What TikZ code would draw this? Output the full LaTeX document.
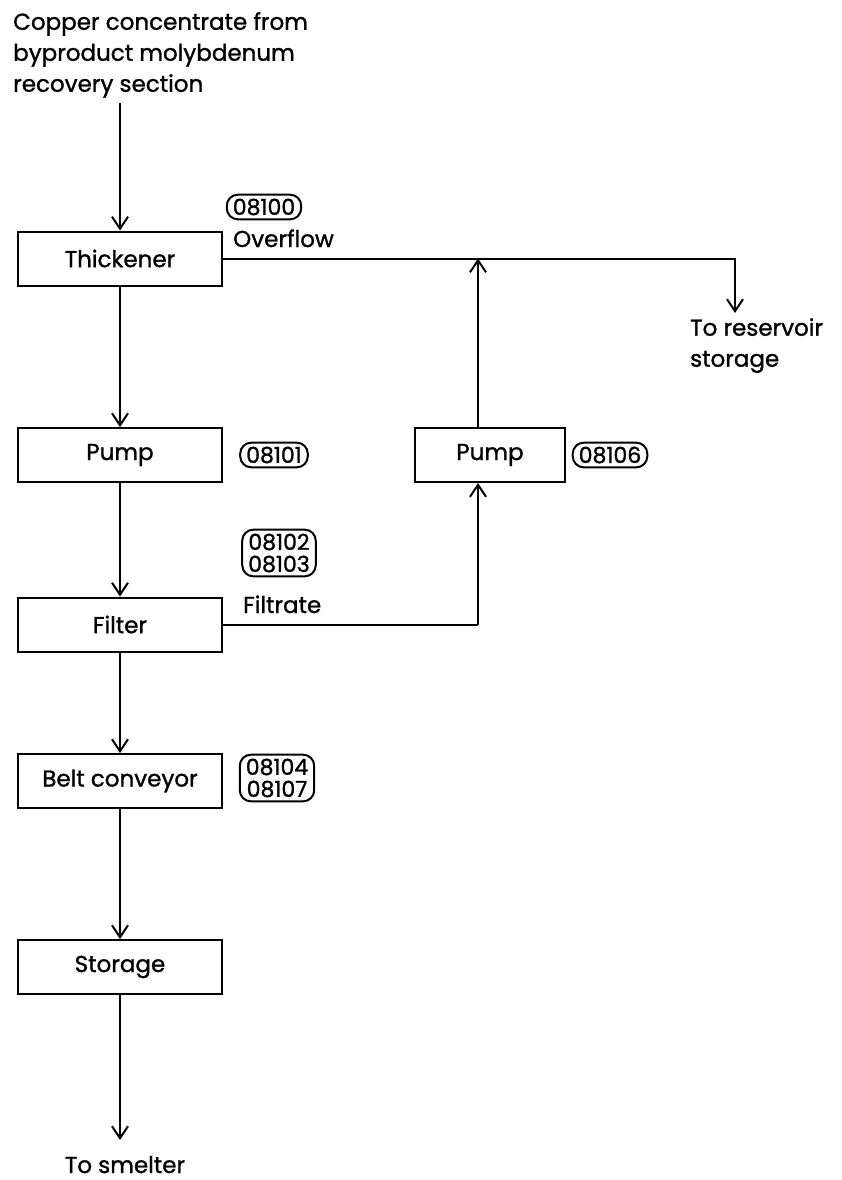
\documentclass[tikz,border=0pt]{standalone}
\usepackage{fontspec}
\setmainfont{Poppins}[FakeBold=1.2]
\usetikzlibrary{arrows.meta,calc}
\begin{document}
\begin{tikzpicture}[x=1pt,y=1pt,
  every node/.style={font=\fontsize{23}{31}\selectfont},
  box/.style={draw, line width=2pt, minimum width=204pt, minimum height=54pt, inner sep=0pt},
  tag/.style={draw, line width=2pt, rounded corners=11pt, inner xsep=6pt, inner ysep=4pt, align=center, font=\fontsize{22}{22}\selectfont},
  flow/.style={line width=2pt, -{Straight Barb[length=12pt,width=16pt,line width=2pt]}},
  plain/.style={line width=2pt},
  lbl/.style={inner sep=0pt, anchor=base west}]
\useasboundingbox (0,0) rectangle (842,-1180);
% source text
\node[inner sep=0pt, anchor=north west, align=left] (src) at (13,-12) {Copper concentrate from\\byproduct molybdenum\\recovery section};
\coordinate (srcend) at (120,-103);
% boxes
\node[box] (thk) at (120,-258.5) {Thickener};
\node[box] (pl) at (120,-455) {Pump};
\node[box] (fil) at (120,-624.5) {Filter};
\node[box] (belt) at (120,-781) {Belt conveyor};
\node[box] (sto) at (120,-967) {Storage};
\node[box, minimum width=150pt] (pr) at (490,-455) {Pump};
% tags
\node[tag] (t0) at (264,-207) {08100};
\node[tag] (t1) at (274,-455) {08101};
\node[tag] (t2) at (279,-553) {08102\\08103};
\node[tag] (t4) at (277,-778) {08104\\08107};
\node[tag] (t6) at (610,-455) {08106};
% labels
\node[lbl] (ovl) at (233,-247) {Overflow};
\node[lbl] (ftl) at (243,-613) {Filtrate};
\node[inner sep=0pt, anchor=north west, align=left] (restxt) at (690,-318) {To reservoir\\storage};
\node[inner sep=0pt, anchor=base] (smtxt) at (125,-1173) {To smelter};
% main line
\draw[flow] (srcend) -- (thk.north);
\draw[flow] (thk) -- (pl);
\draw[flow] (pl) -- (fil);
\draw[flow] (fil) -- (belt);
\draw[flow] (belt) -- (sto);
\coordinate (smelt) at (120,-1140);
\draw[flow] (sto) -- (smelt);
% overflow
\coordinate (ovc) at (735,-258.5);
\coordinate (resv) at (735,-313);
\draw[flow] (thk.east) -- (ovc) -- (resv);
% filtrate loop
\coordinate (fj) at (478,-624.5);
\draw[plain] (fil.east) -- (fj);
\draw[flow] (fj) -- (pr.south -| fj);
\coordinate (oj) at (478,-258.5);
\draw[flow] (pr.north -| oj) -- (oj);
\end{tikzpicture}
\end{document}
